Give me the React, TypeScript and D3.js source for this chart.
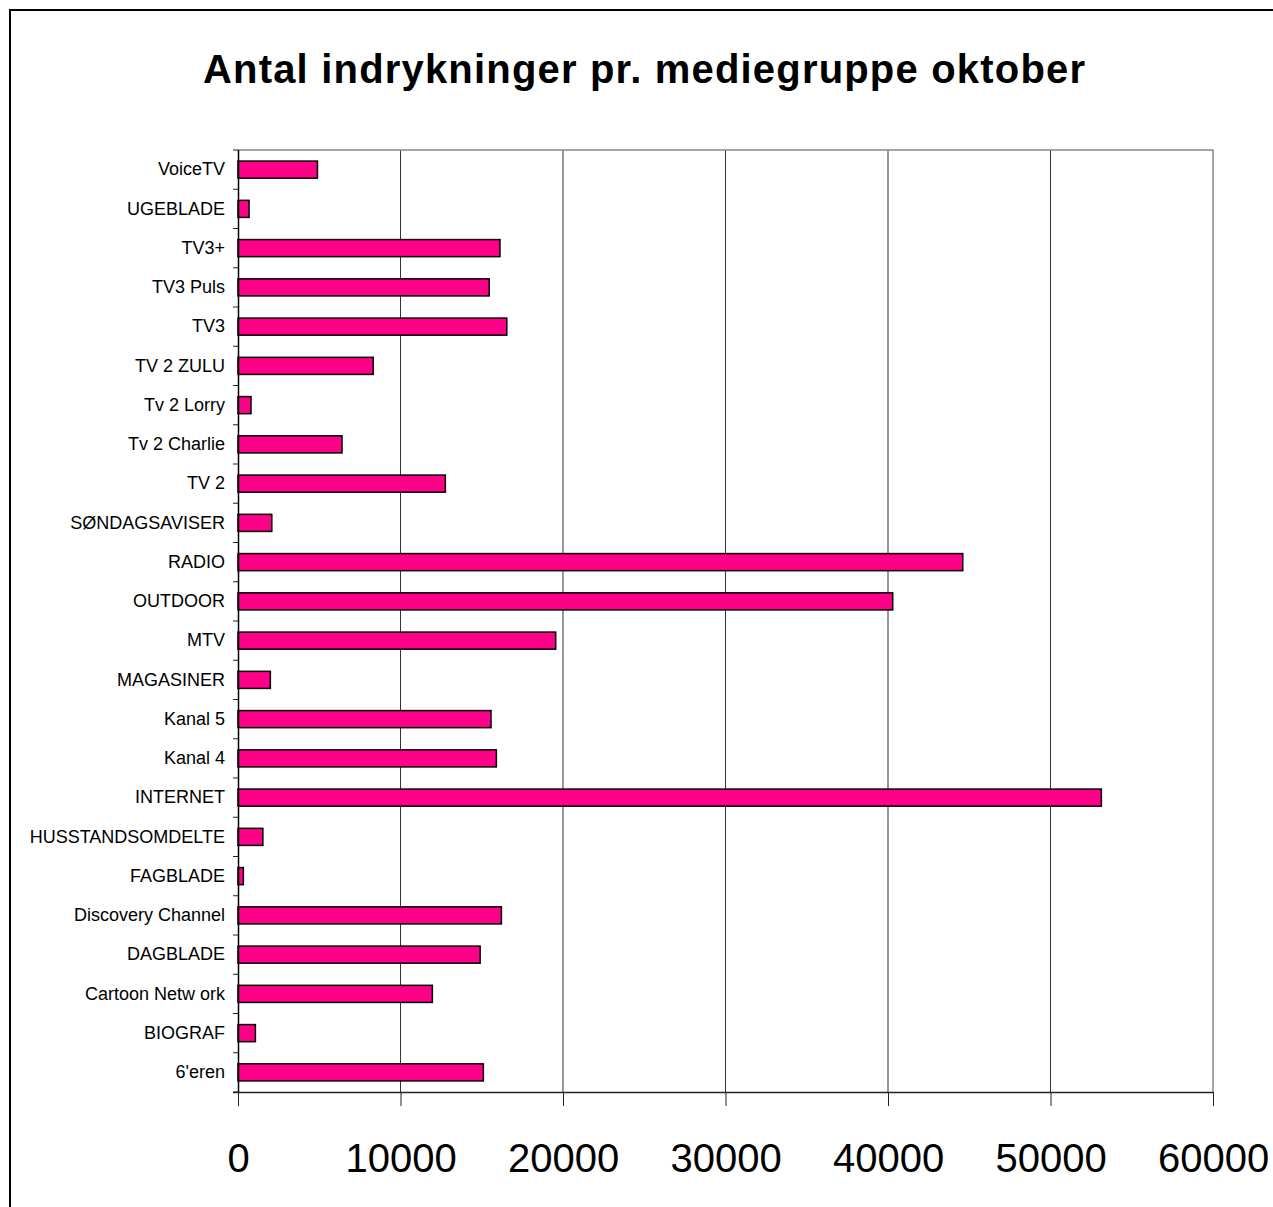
import { useEffect, useRef } from 'react'
import * as d3 from 'd3'

// categories listed bottom to top as in the source sheet
const categories = [
  "6'eren",
  'BIOGRAF',
  'Cartoon Netw ork',
  'DAGBLADE',
  'Discovery Channel',
  'FAGBLADE',
  'HUSSTANDSOMDELTE',
  'INTERNET',
  'Kanal 4',
  'Kanal 5',
  'MAGASINER',
  'MTV',
  'OUTDOOR',
  'RADIO',
  'SØNDAGSAVISER',
  'TV 2',
  'Tv 2 Charlie',
  'Tv 2 Lorry',
  'TV 2 ZULU',
  'TV3',
  'TV3 Puls',
  'TV3+',
  'UGEBLADE',
  'VoiceTV',
]

const counts = [
  15100, 1070, 11960, 14900, 16210, 330, 1530, 53130, 15900, 15570, 1990, 19550,
  40290, 44600, 2080, 12760, 6400, 800, 8320, 16540, 15460, 16120, 680, 4890,
]

const xTicks = [0, 10000, 20000, 30000, 40000, 50000, 60000]

const title = 'Antal indrykninger pr. mediegruppe oktober'

export default function App() {
  const ref = useRef<SVGSVGElement>(null)

  useEffect(() => {
    if (!ref.current) return
    const svg = d3.select(ref.current)
    svg.selectAll('*').remove()

    const W = 1273
    const H = 1207
    const left = 238
    const right = 1213
    const top = 150
    const bottom = 1092
    const font = 'Liberation Sans, Arial, Helvetica, sans-serif'

    // outer frame
    svg.append('rect')
      .attr('x', 10).attr('y', 10)
      .attr('width', W).attr('height', H)
      .attr('fill', '#fff')
      .attr('stroke', '#000')
      .attr('stroke-width', 2)

    svg.append('text')
      .attr('x', 203).attr('y', 83)
      .attr('font-family', font)
      .attr('font-weight', 'bold')
      .attr('font-size', 40)
      .attr('textLength', 882)
      .attr('lengthAdjust', 'spacing')
      .attr('fill', '#000')
      .text(title)

    const x = d3.scaleLinear().domain([0, 60000]).range([left, right])
    const y = d3.scaleBand<string>()
      .domain(categories.slice().reverse())
      .range([top, bottom])
      .paddingInner(0.565)
      .paddingOuter(0.2825)

    // gridlines
    svg.append('g')
      .selectAll('line')
      .data(xTicks.filter(t => t > 0 && t < 60000))
      .enter().append('line')
      .attr('x1', d => x(d)).attr('x2', d => x(d))
      .attr('y1', top).attr('y2', bottom)
      .attr('stroke', '#333')
      .attr('stroke-width', 1)

    // plot border (top/right)
    svg.append('path')
      .attr('d', `M${left},${top}H${right}V${bottom}`)
      .attr('fill', 'none')
      .attr('stroke', '#888')
      .attr('stroke-width', 1.5)

    // bars
    svg.append('g')
      .selectAll('rect')
      .data(categories.map((c, i) => ({ c, v: counts[i] })))
      .enter().append('rect')
      .attr('x', x(0))
      .attr('y', d => y(d.c) as number)
      .attr('width', d => x(d.v) - x(0))
      .attr('height', y.bandwidth())
      .attr('fill', '#ff0088')
      .attr('stroke', '#000')
      .attr('stroke-width', 1.5)

    // x axis
    const xAxis = svg.append('g')
      .attr('transform', `translate(0,${bottom})`)
      .call(d3.axisBottom(x).tickValues(xTicks).tickSize(14).tickPadding(38).tickFormat(d3.format('d')))
    xAxis.select('.domain').attr('stroke', '#222').attr('stroke-width', 1.5).attr('d', `M${left - 5},0.5H${right}`)
    xAxis.selectAll('.tick line').attr('stroke', '#222')
    xAxis.selectAll('text')
      .attr('font-family', font)
      .attr('font-size', 40)
      .attr('fill', '#000')
      .attr('dy', '0.71em')

    // y axis: ticks at band boundaries
    const yAxis = svg.append('g')
      .attr('transform', `translate(${left},0)`)
      .call(d3.axisLeft(y).tickSize(0).tickPadding(13))
    yAxis.select('.domain').attr('stroke', '#000').attr('stroke-width', 1.5).attr('d', `M0.5,${top}V${bottom}`)
    yAxis.selectAll('text')
      .attr('font-family', font)
      .attr('font-size', 18)
      .attr('fill', '#000')
    const step = y.step()
    yAxis.append('g')
      .selectAll('line')
      .data(d3.range(categories.length + 1))
      .enter().append('line')
      .attr('x1', -5).attr('x2', 0)
      .attr('y1', i => top + i * step).attr('y2', i => top + i * step)
      .attr('stroke', '#222')
  }, [])

  return (
    <svg
      ref={ref}
      width={1273}
      height={1207}
      style={{ position: 'absolute', left: 0, top: 0, display: 'block', background: '#fff' }}
    />
  )
}
